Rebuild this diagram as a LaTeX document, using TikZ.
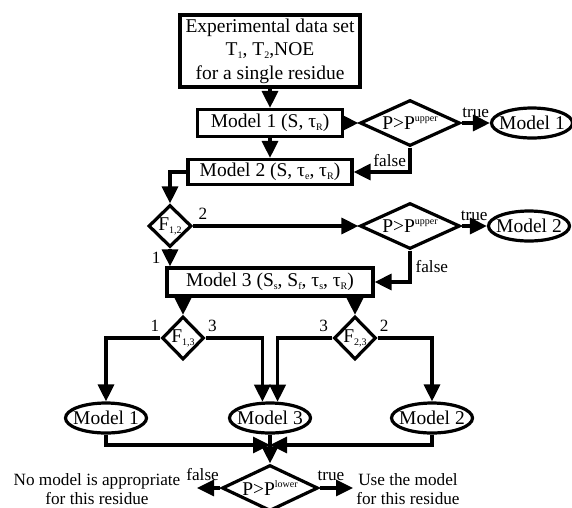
\documentclass[tikz,border=0pt]{standalone}
\usepackage{fontspec}
\setmainfont{Liberation Serif}
\usetikzlibrary{arrows.meta}
\usetikzlibrary{shapes.geometric}

\newcommand{\subtxt}[1]{\raisebox{-0.35ex}{\fontsize{10}{10}\selectfont #1}}
\newcommand{\suptxt}[1]{\raisebox{0.85ex}{\fontsize{10}{10}\selectfont #1}}

\begin{document}
\begin{tikzpicture}[x = 1pt, y = -1pt, font = \fontsize{19.5}{23.5}\selectfont, line width = 3.2pt]
	\tikzstyle{boxStyle} = [rectangle, draw, inner sep = 2pt, minimum height = 27pt, align = center]
	\tikzstyle{decisionStyle} = [diamond, draw, inner sep = 0pt]
	\tikzstyle{modelStyle} = [ellipse, draw, inner sep = 0pt, minimum width = 81pt, minimum height = 30pt]
	\tikzstyle{noteStyle} = [font = \fontsize{17.2}{19}\selectfont, inner sep = 0pt, align = center]
	\tikzstyle{EdgeStyle} = [-{Triangle[length = 17pt, width = 16pt]}]
	\useasboundingbox (0,0) rectangle (572,507);
	\node[boxStyle, minimum width = 180pt, minimum height = 72pt] (data) at (270,51) {Experimental data set\\T\subtxt{1}, T\subtxt{2},NOE\\for a single residue};
	\node[boxStyle, minimum width = 145pt] (mod1) at (270,123) {Model 1 (S, τ\subtxt{R})};
	\node[decisionStyle, minimum width = 100pt, minimum height = 46pt, label = {center:P>P\suptxt{upper}}] (up1) at (410,123) {};
	\node[modelStyle, label = {center:Model 1}] (res1) at (532,123) {};
	\node[boxStyle, minimum width = 164pt, minimum height = 25pt] (mod2) at (270,172) {Model 2 (S, τ\subtxt{e}, τ\subtxt{R})};
	\node[decisionStyle, minimum width = 43pt, minimum height = 42pt, label = {center:F\subtxt{1,2}}] (f12) at (170,226) {};
	\node[decisionStyle, minimum width = 100pt, minimum height = 46pt, label = {center:P>P\suptxt{upper}}] (up2) at (410,226) {};
	\node[modelStyle, label = {center:Model 2}] (res2) at (529,226) {};
	\node[boxStyle, minimum width = 206pt, minimum height = 28pt] (mod3) at (270,282) {Model 3 (S\subtxt{s}, S\subtxt{f}, τ\subtxt{s}, τ\subtxt{R})};
	\node[decisionStyle, minimum width = 42pt, minimum height = 43pt, label = {center:F\subtxt{1,3}}] (f13) at (183,338) {};
	\node[decisionStyle, minimum width = 42pt, minimum height = 43pt, label = {center:F\subtxt{2,3}}] (f23) at (355,338) {};
	\node[modelStyle, label = {center:Model 1}] (fin1) at (106,418) {};
	\node[modelStyle, label = {center:Model 3}] (fin3) at (270,418) {};
	\node[modelStyle, label = {center:Model 2}] (fin2) at (432,418) {};
	\node[decisionStyle, minimum width = 96pt, minimum height = 46pt, label = {center:P>P\suptxt{lower}}] (low) at (270,488) {};
	\node[noteStyle] (none) at (97,489) {No model is appropriate\\for this residue};
	\node[noteStyle] (use) at (408,489) {Use the model\\for this residue};
	\coordinate (join) at (270,445);
	\coordinate (noEnd) at (197,488);
	\coordinate (useEnd) at (353,488);
	\draw[EdgeStyle] (data.south) -- (mod1.north);
	\draw[EdgeStyle] (mod1.east) -- (up1.west);
	\draw[EdgeStyle] (up1.east) -- node[noteStyle, above = 4pt] {true} (res1.west);
	\draw[EdgeStyle] (up1.south) |- node[noteStyle, pos = 0.68, above = 4pt] {false} (mod2.east);
	\draw[EdgeStyle] (mod1.south) -- (mod2.north);
	\draw[EdgeStyle] (mod2.west) -| (f12.north);
	\draw[EdgeStyle] (f12.east) -- node[noteStyle, pos = 0.06, above = 5pt] {2} (up2.west);
	\draw[EdgeStyle] (up2.east) -- node[noteStyle, above = 4pt] {true} (res2.west);
	\draw[EdgeStyle] (up2.south) |- node[noteStyle, pos = 0.25, right = 4pt] {false} (mod3.east);
	\draw[EdgeStyle] (f12.south) -- node[noteStyle, left = 8pt] {1} (f12.south |- mod3.north);
	\draw[EdgeStyle] (f13.north |- mod3.south) -- (f13.north);
	\draw[EdgeStyle] (f23.north |- mod3.south) -- (f23.north);
	\draw[EdgeStyle] (f13.west) -| node[noteStyle, pos = 0.05, above = 5pt] {1} (fin1.north);
	\draw[EdgeStyle] (f13.east) -| node[noteStyle, pos = 0.06, above = 5pt] {3} (fin3.115);
	\draw[EdgeStyle] (f23.west) -| node[noteStyle, pos = 0.08, above = 5pt] {3} (fin3.65);
	\draw[EdgeStyle] (f23.east) -| node[noteStyle, pos = 0.06, above = 5pt] {2} (fin2.north);
	\draw[EdgeStyle] (fin1.south) |- (join);
	\draw[EdgeStyle] (fin2.south) |- (join);
	\draw[EdgeStyle] (fin3.south) -- (low.north);
	\draw[EdgeStyle] (low.west) -- node[noteStyle, pos = 0.76, above = 6pt] {false} (noEnd);
	\draw[EdgeStyle] (low.east) -- node[noteStyle, pos = 0.34, above = 6pt] {true} (useEnd);
\end{tikzpicture}
\end{document}
